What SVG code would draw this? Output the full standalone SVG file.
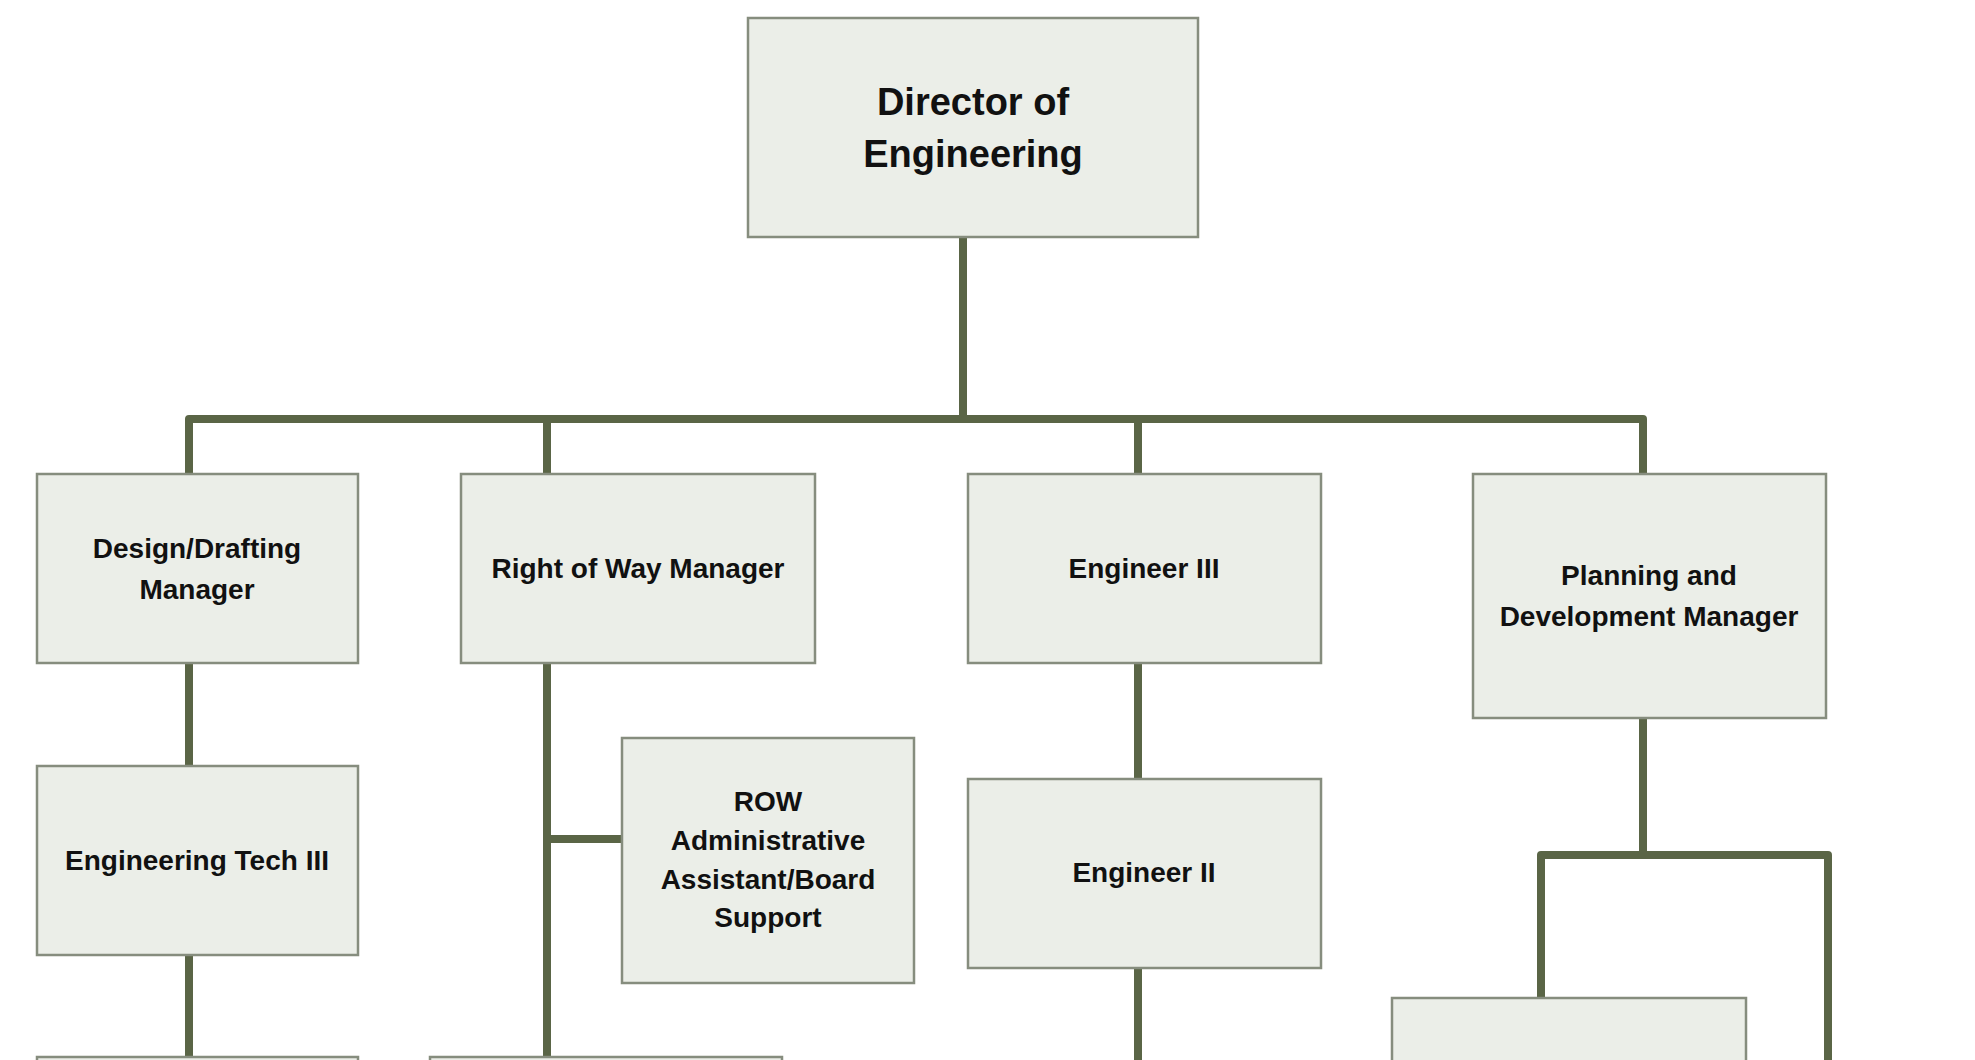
<svg xmlns="http://www.w3.org/2000/svg" width="1975" height="1060" viewBox="0 0 1975 1060">
<style>
.box{fill:#ebeee8;stroke:#868d7e;stroke-width:2.5}
.lbl{font-family:"Liberation Sans",Arial,sans-serif;font-weight:bold;font-size:28px;fill:#111;text-anchor:middle}
.big{font-size:38px}
.con{fill:none;stroke:#5a6546;stroke-width:8;stroke-linejoin:round}
</style>
<rect width="1975" height="1060" fill="#ffffff"/>
<g id="connectors">
<path class="con" d="M963,237 V419"/>
<path class="con" d="M189,474 V419 H1643 V474"/>
<path class="con" d="M547,419 V474"/>
<path class="con" d="M1138,419 V474"/>
<path class="con" d="M189,663 V766"/>
<path class="con" d="M189,955 V1057"/>
<path class="con" d="M547,663 V1057"/>
<path class="con" d="M547,839 H622"/>
<path class="con" d="M1138,663 V779"/>
<path class="con" d="M1138,968 V1060"/>
<path class="con" d="M1643,718 V855"/>
<path class="con" d="M1541,998 V855 H1828 V1060"/>
</g>
<g id="director">
<rect class="box" x="748" y="18" width="450" height="219"/>
<text class="lbl big" x="973" y="115">Director of</text>
<text class="lbl big" x="973" y="167">Engineering</text>
</g>
<g id="design-drafting-manager">
<rect class="box" x="37" y="474" width="321" height="189"/>
<text class="lbl" x="197" y="558">Design/Drafting</text>
<text class="lbl" x="197" y="599">Manager</text>
</g>
<g id="right-of-way-manager">
<rect class="box" x="461" y="474" width="354" height="189"/>
<text class="lbl" x="638" y="578">Right of Way Manager</text>
</g>
<g id="engineer-iii">
<rect class="box" x="968" y="474" width="353" height="189"/>
<text class="lbl" x="1144" y="578">Engineer III</text>
</g>
<g id="planning-development-manager">
<rect class="box" x="1473" y="474" width="353" height="244"/>
<text class="lbl" x="1649" y="585">Planning and</text>
<text class="lbl" x="1649" y="626">Development Manager</text>
</g>
<g id="engineering-tech-iii">
<rect class="box" x="37" y="766" width="321" height="189"/>
<text class="lbl" x="197" y="870">Engineering Tech III</text>
</g>
<g id="row-admin-assistant">
<rect class="box" x="622" y="738" width="292" height="245"/>
<text class="lbl" x="768" y="811">ROW</text>
<text class="lbl" x="768" y="850">Administrative</text>
<text class="lbl" x="768" y="889">Assistant/Board</text>
<text class="lbl" x="768" y="927">Support</text>
</g>
<g id="engineer-ii">
<rect class="box" x="968" y="779" width="353" height="189"/>
<text class="lbl" x="1144" y="882">Engineer II</text>
</g>
<g id="design-child">
<rect class="box" x="37" y="1057" width="321" height="189"/>
</g>
<g id="row-child">
<rect class="box" x="430" y="1057" width="352" height="189"/>
</g>
<g id="planning-child">
<rect class="box" x="1392" y="998" width="354" height="189"/>
</g>
</svg>
